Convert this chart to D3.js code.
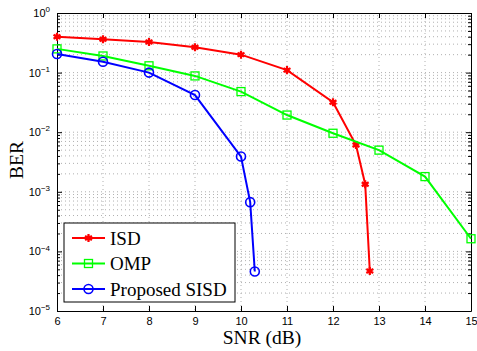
<!DOCTYPE html>
<html>
<head>
<meta charset="utf-8">
<script src="https://cdn.jsdelivr.net/npm/d3@7"></script>
<style>
  body { margin: 0; background: #fff; }
  svg { display: block; }
  .tick text { font-family: "Liberation Sans", Arial, sans-serif; font-size: 11px; }
</style>
</head>
<body>
<div id="chart"></div>
<script>
const WIDTH = 477;
const HEIGHT = 351;
const MARGIN = { TOP: 13, BOTTOM: 40, LEFT: 57, RIGHT: 6 };

const width_plot = WIDTH - MARGIN.LEFT - MARGIN.RIGHT;
const height_plot = HEIGHT - MARGIN.TOP - MARGIN.BOTTOM;

// data
const snr_isd = [6, 7, 8, 9, 10, 11, 12, 12.5, 12.7, 12.8];
const ber_isd = [0.40, 0.362, 0.326, 0.266, 0.20, 0.11, 0.0318, 0.0061, 0.00134, 4.7e-5];

const snr_omp = [6, 7, 8, 9, 10, 11, 12, 13, 14, 15];
const ber_omp = [0.25, 0.19, 0.13, 0.088, 0.048, 0.0194, 0.0096, 0.005, 0.0018, 1.63e-4];

const snr_sisd = [6, 7, 8, 9, 10, 10.2, 10.3];
const ber_sisd = [0.205, 0.152, 0.10, 0.042, 0.0039, 6.7e-4, 4.6e-5];

const series_names = ['ISD', 'OMP', 'Proposed SISD'];
const series_colors = ['#ff0000', '#00ff00', '#0000ff'];
const series_marks = ['star', 'square', 'circle'];

const x_ticks = [6, 7, 8, 9, 10, 11, 12, 13, 14, 15];
const y_exps = [0, -1, -2, -3, -4, -5];

const series = [
  { name: series_names[0], color: series_colors[0], mark: series_marks[0], pts: snr_isd.map((x, i) => [x, ber_isd[i]]) },
  { name: series_names[1], color: series_colors[1], mark: series_marks[1], pts: snr_omp.map((x, i) => [x, ber_omp[i]]) },
  { name: series_names[2], color: series_colors[2], mark: series_marks[2], pts: snr_sisd.map((x, i) => [x, ber_sisd[i]]) }
];

const svg = d3.select('#chart').append('svg')
  .attr('width', WIDTH)
  .attr('height', HEIGHT);

const g = svg.append('g')
  .attr('transform', `translate(${MARGIN.LEFT}, ${MARGIN.TOP})`);

const xscale = d3.scaleLinear().domain([6, 15]).range([0, width_plot]);
const yscale = d3.scaleLog().domain([1e-5, 1]).range([height_plot, 0]);

// minor log ticks
const minor = [];
for (let e = -5; e < 0; e++) {
  for (let m = 2; m <= 9; m++) minor.push(m * Math.pow(10, e));
}
const major = y_exps.map(e => Math.pow(10, e));

// grid
const grid = g.append('g').attr('class', 'grid')
  .attr('stroke', '#b0b0b0').attr('stroke-width', 1).attr('stroke-dasharray', '1,3');
grid.selectAll('.gx').data(x_ticks.slice(1, -1)).enter().append('line')
  .attr('x1', d => xscale(d)).attr('x2', d => xscale(d))
  .attr('y1', 0).attr('y2', height_plot);
grid.selectAll('.gy').data(minor.concat(major.slice(1, -1))).enter().append('line')
  .attr('x1', 0).attr('x2', width_plot)
  .attr('y1', d => yscale(d)).attr('y2', d => yscale(d));

// axes
const axisBottom = d3.axisBottom(xscale).tickValues(x_ticks).tickSizeInner(-5).tickSizeOuter(0).tickPadding(6);
const axisTop = d3.axisTop(xscale).tickValues(x_ticks).tickSizeInner(-5).tickSizeOuter(0).tickFormat('');
const axisLeft = d3.axisLeft(yscale).tickValues(major).tickSizeInner(-5).tickSizeOuter(0).tickPadding(9).tickFormat('');
const axisRight = d3.axisRight(yscale).tickValues(major).tickSizeInner(-5).tickSizeOuter(0).tickFormat('');
const minorLeft = d3.axisLeft(yscale).tickValues(minor).tickSizeInner(-3).tickSizeOuter(0).tickFormat('');
const minorRight = d3.axisRight(yscale).tickValues(minor).tickSizeInner(-3).tickSizeOuter(0).tickFormat('');

function styleAxis(sel) {
  sel.selectAll('path').attr('stroke', '#000');
  sel.selectAll('line').attr('stroke', '#000');
  sel.selectAll('text').attr('fill', '#000');
}

g.append('g').attr('transform', `translate(0, ${height_plot})`).call(axisBottom).call(styleAxis);
g.append('g').call(axisTop).call(styleAxis);
const yAxis = g.append('g').call(axisLeft).call(styleAxis);
g.append('g').attr('transform', `translate(${width_plot}, 0)`).call(axisRight).call(styleAxis);
g.append('g').call(minorLeft).call(styleAxis).select('path').remove();
g.append('g').attr('transform', `translate(${width_plot}, 0)`).call(minorRight).call(styleAxis).select('path').remove();

// y tick labels as 10 with superscript
yAxis.selectAll('.tick').each(function(d) {
  const e = Math.round(Math.log10(d));
  const t = d3.select(this).append('text')
    .attr('dy', '0.32em')
    .attr('fill', '#000')
    .style('font-family', '"Liberation Sans", Arial, sans-serif');
  t.append('tspan').style('font-size', '11px').text('10');
  t.append('tspan').attr('dy', '-0.6em').style('font-size', '8px').text(e === 0 ? '0' : '\u2212' + Math.abs(e));
});
yAxis.selectAll('.tick text').each(function() {
  const w = this.getComputedTextLength();
  d3.select(this).attr('x', -7 - w).attr('text-anchor', 'start');
});

// lines
const line = d3.line().x(d => xscale(d[0])).y(d => yscale(d[1]));

const drawMark = (sel, mark, color) => {
  if (mark === 'square') {
    sel.append('rect').attr('x', -4).attr('y', -4).attr('width', 8).attr('height', 8)
      .attr('fill', 'none').attr('stroke', color).attr('stroke-width', 1.3);
  } else if (mark === 'circle') {
    sel.append('circle').attr('r', 4.5)
      .attr('fill', 'none').attr('stroke', color).attr('stroke-width', 1.6);
  } else {
    sel.append('path').attr('d', d3.symbol(d3.symbolAsterisk, 45)())
      .attr('fill', 'none').attr('stroke', color).attr('stroke-width', 2.2);
    sel.append('circle').attr('r', 2.5).attr('fill', color);
  }
};

series.forEach(s => {
  g.append('path').datum(s.pts)
    .attr('fill', 'none').attr('stroke', s.color).attr('stroke-width', 2)
    .attr('d', line);
  g.selectAll(null).data(s.pts).enter().append('g')
    .attr('transform', d => `translate(${xscale(d[0])}, ${yscale(d[1])})`)
    .each(function() { drawMark(d3.select(this), s.mark, s.color); });
});

// axis labels
svg.append('text')
  .attr('x', 262).attr('y', 344)
  .attr('text-anchor', 'middle')
  .style('font-family', '"Liberation Serif", "Times New Roman", serif')
  .style('font-size', '19.5px')
  .text('SNR (dB)');

svg.append('text')
  .attr('transform', `translate(23, 160) rotate(-90)`)
  .attr('text-anchor', 'middle')
  .style('font-family', '"Liberation Serif", "Times New Roman", serif')
  .style('font-size', '19.5px')
  .text('BER');

// legend
const legend = svg.append('g').attr('transform', 'translate(64, 223)');
legend.append('rect').attr('width', 171).attr('height', 79)
  .attr('fill', '#fff').attr('stroke', '#000').attr('stroke-width', 1);

series.forEach((s, i) => {
  const row = legend.append('g').attr('transform', `translate(0, ${15 + i * 25.5})`);
  row.append('line').attr('x1', 8).attr('x2', 41).attr('stroke', s.color).attr('stroke-width', 2);
  const m = row.append('g').attr('transform', 'translate(24.5, 0)');
  drawMark(m, s.mark, s.color);
  row.append('text').attr('x', 46).attr('dy', '0.35em')
    .style('font-family', '"Liberation Serif", "Times New Roman", serif')
    .style('font-size', '19px')
    .text(s.name);
});
</script>
</body>
</html>
